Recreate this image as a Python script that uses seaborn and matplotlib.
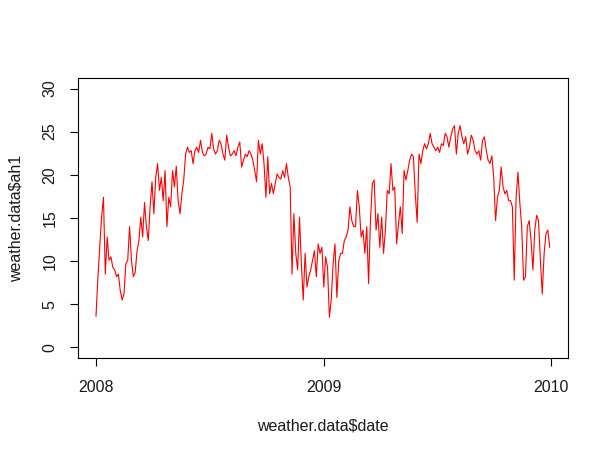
import matplotlib
matplotlib.use("Agg")
import matplotlib.pyplot as plt
import pandas as pd
import seaborn as sns

# ── Data (3-day samples) ─────────────────────────────────────────────────────

start_date = "2008-01-01"
step = "3D"

ah1_2008a = [
    3.6, 8.0, 11.6, 15.1, 17.4, 8.5, 12.8, 10.1, 10.5, 9.3,
    9.0, 8.2, 8.5, 6.6, 5.5, 6.2, 9.7, 10.1, 14.0, 10.1,
    8.2, 8.7, 11.2, 12.4, 15.1, 12.8, 16.8, 14.0, 12.4, 16.3,
    19.2, 15.5, 19.7, 21.3, 18.2, 19.7, 17.0, 20.5, 14.0, 17.4,
]
ah1_2008b = [
    16.3, 20.5, 18.6, 21.0, 17.0, 15.5, 17.8, 19.4, 22.4, 23.2,
    22.6, 22.8, 21.3, 22.8, 23.2, 22.6, 24.0, 22.6, 22.2, 22.4,
    23.2, 23.0, 24.8, 23.0, 22.4, 22.8, 24.0, 23.6, 22.4, 21.7,
    24.6, 23.2, 22.2, 22.4, 22.8, 22.2, 23.2, 23.8, 20.9, 21.7,
]
ah1_2008c = [
    22.4, 22.1, 22.8, 22.4, 21.7, 20.5, 19.2, 24.0, 22.4, 23.6,
    21.3, 17.4, 22.1, 17.8, 19.0, 17.8, 19.0, 20.1, 19.7, 19.5,
    20.5, 19.7, 21.3, 19.7, 18.6, 8.5, 15.5, 10.9, 9.0, 15.1,
    9.7, 5.5, 10.9, 7.0, 8.2, 9.0, 10.1, 11.2, 8.2, 12.0,
]
ah1_2009a = [
    10.9, 11.6, 7.0, 10.5, 9.3, 3.5, 5.5, 9.7, 12.0, 5.8,
    10.0, 10.9, 10.9, 12.4, 12.8, 13.6, 16.3, 14.7, 14.0, 14.0,
    18.2, 16.3, 12.8, 13.6, 10.9, 14.0, 7.4, 14.7, 19.0, 19.4,
    13.6, 15.5, 11.6, 15.1, 10.9, 13.6, 18.2, 17.8, 21.3, 18.2,
]
ah1_2009b = [
    18.6, 12.0, 14.3, 16.3, 13.2, 20.5, 19.4, 20.5, 21.7, 22.4,
    22.1, 17.8, 14.5, 22.4, 21.3, 22.8, 23.6, 23.0, 23.6, 24.8,
    23.6, 23.2, 22.8, 23.2, 22.6, 23.6, 23.4, 24.8, 24.4, 23.2,
    24.4, 25.3, 25.7, 22.4, 24.8, 25.7, 24.4, 23.6, 24.4, 22.4,
]
ah1_2009c = [
    23.2, 24.6, 24.0, 22.8, 22.4, 22.8, 21.7, 24.0, 24.4, 22.8,
    21.7, 21.3, 22.2, 19.7, 14.7, 17.4, 18.2, 20.9, 18.6, 17.8,
    18.2, 17.0, 17.0, 16.3, 7.8, 17.4, 20.3, 16.7, 14.0, 7.8,
    8.2, 14.0, 14.7, 12.4, 9.0, 13.6, 15.3, 14.7, 10.1, 6.2,
    10.9, 13.2, 13.6, 11.6,
]

x_ticks = ["2008-01-01", "2009-01-01", "2010-01-01"]
x_tick_labels = ["2008", "2009", "2010"]
y_ticks = [0, 5, 10, 15, 20, 25, 30]

ah1 = ah1_2008a + ah1_2008b + ah1_2008c + ah1_2009a + ah1_2009b + ah1_2009c
df = pd.DataFrame({
    "date": pd.date_range(start_date, periods=len(ah1), freq=step),
    "ah1": ah1,
})

# ── Plot (base-R look) ────────────────────────────────────────────────────────

sns.set_theme(style="ticks")
plt.rcParams["font.family"] = ["Liberation Sans", "DejaVu Sans"]

fig = plt.figure(figsize=(6.08, 4.57), dpi=100)
ax = fig.add_axes([0.128, 0.217, 0.806, 0.612])

sns.lineplot(data=df, x="date", y="ah1", color="red", linewidth=0.8,
             legend=False, ax=ax)

# R pads the data range by 4% on each side
span = df["date"].iloc[-1] - df["date"].iloc[0]
ax.set_xlim(df["date"].iloc[0] - span * 0.04, df["date"].iloc[-1] + span * 0.04)
ax.set_ylim(-1.2, 31.2)

ax.set_xticks(pd.to_datetime(x_ticks))
ax.set_xticklabels(x_tick_labels)
ax.set_yticks(y_ticks)
ax.set_yticklabels([str(v) for v in y_ticks], rotation=90, va="center")

for side in ["top", "right", "left", "bottom"]:
    ax.spines[side].set_visible(True)
    ax.spines[side].set_color("black")
    ax.spines[side].set_linewidth(0.8)

ax.tick_params(axis="both", direction="out", length=5.5, width=0.8,
               colors="black", labelsize=11.5, labelcolor="#1a1a1a")
ax.tick_params(axis="x", pad=10.5)
ax.tick_params(axis="y", pad=9)

ax.set_xlabel(r"weather.data\$date", fontsize=11.5, color="#1a1a1a", labelpad=17)
ax.set_ylabel(r"weather.data\$ah1", fontsize=11.5, color="#1a1a1a", labelpad=14)

fig.savefig("out.png", dpi=100, facecolor="white")
plt.close(fig)
